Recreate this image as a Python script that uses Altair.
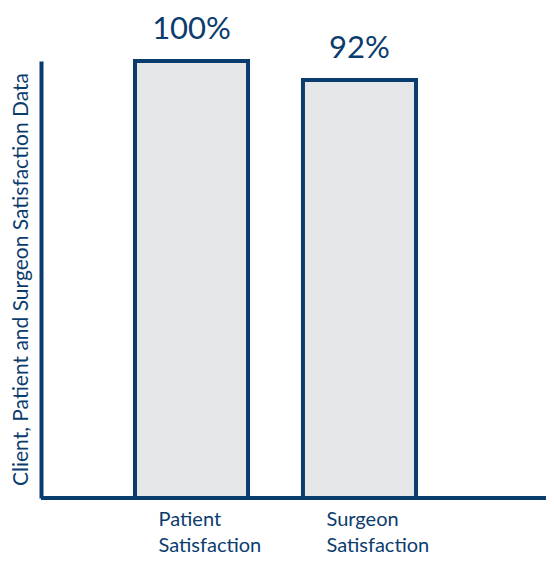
import altair as alt
import pandas as pd

categories = ["Patient Satisfaction", "Surgeon Satisfaction"]
values = [100, 92]
labels = ["100%", "92%"]

NAVY = "#0B3C6E"
FILL = "#E6E7E8"
FONT = "Lato"
W, H = 505, 437
BASE = -84

df = pd.DataFrame({"cat": categories, "val": values, "lab": labels})

xscale = alt.Scale(range=[94, 375], paddingInner=0.327, paddingOuter=0)
yscale = alt.Scale(domain=[BASE, 100], nice=False, zero=False)

x = alt.X("cat:N", scale=xscale, sort=categories,
          axis=alt.Axis(title=None, domain=False, ticks=False,
                        labelFontSize=20, labelColor=NAVY, labelFont=FONT,
                        labelAngle=0, labelAlign="left", labelOffset=-33,
                        labelBaseline="alphabetic", labelPadding=27, labelLineHeight=26,
                        labelExpr="split(datum.label, ' ')"))
y = alt.Y("val:Q", scale=yscale,
          axis=alt.Axis(title="Client, Patient and Surgeon Satisfaction Data",
                        labels=False, ticks=False, grid=False,
                        domainColor=NAVY, domainWidth=4,
                        titleFont=FONT, titleFontSize=21, titleFontWeight="normal",
                        titleColor=NAVY, titleAngle=270, titleAlign="center",
                        titleBaseline="alphabetic", titleX=-14, titleY=218))

bars = alt.Chart(df).mark_bar(fill=FILL, stroke=NAVY, strokeWidth=4).encode(
    x=x, y=y, y2=alt.datum(BASE)
)

text = alt.Chart(df).mark_text(fontSize=31, font=FONT, color=NAVY,
                               baseline="alphabetic", dy=-22).encode(
    x=alt.X("cat:N", scale=xscale, sort=categories),
    y=alt.Y("val:Q", scale=yscale),
    text="lab:N",
)

xaxis_line = alt.Chart(df).mark_rule(color=NAVY, strokeWidth=4).encode(
    y=alt.datum(BASE), x=alt.value(0), x2=alt.value(W)
)

chart = alt.layer(bars, xaxis_line, text).properties(
    width=W, height=H,
    autosize=alt.AutoSizeParams(type="none"),
    padding={"left": 33, "top": 53, "right": 0, "bottom": 56},
).configure_view(stroke=None)

chart.save("out.html", embed_options={"renderer": "svg", "actions": False})
